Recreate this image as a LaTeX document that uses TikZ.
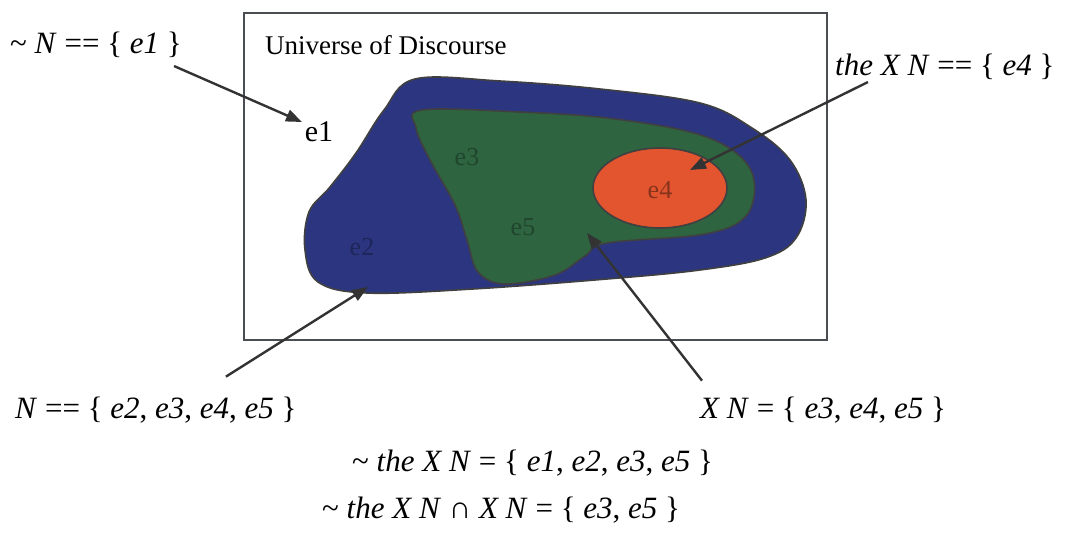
\documentclass[tikz,border=0pt]{standalone}
\usepackage{fontspec}
\setmainfont{Liberation Serif}
\usetikzlibrary{arrows.meta,positioning,calc}
\definecolor{navy}{HTML}{2C3680}
\definecolor{setgreen}{HTML}{2E6440}
\definecolor{theorange}{HTML}{E2552F}
\definecolor{framegray}{HTML}{4A4D52}

\begin{document}
\begin{tikzpicture}[
  x=1pt, y=-1pt,
  lbl/.style={inner sep=0pt, anchor=west, font=\fontsize{27}{32}\selectfont},
  setlbl/.style={inner sep=0pt, anchor=west, font=\fontsize{31}{36}\selectfont},
  elem/.style={inner sep=0pt, font=\fontsize{26}{30}\selectfont},
  region/.style={draw=black!75, line width=1.6pt},
  pointer/.style={-{Triangle[length=16pt,width=12pt]}, line width=2.4pt, draw=black!80}
]
\useasboundingbox (0,0) rectangle (1077,533);
\draw[draw=framegray, line width=2.6pt] (244,13) rectangle (827,340);

\filldraw[region, fill=navy] plot[smooth cycle, tension=0.6] coordinates {(415,79) (500,81) (600,89) (700,103) (752,128) (790,160) (806,200) (796,238) (765,258) (700,270) (607,279) (473,289) (367,293) (318,282) (305,250) (309,212) (330,187) (356,153) (384,110)};
\filldraw[region, fill=setgreen] plot[smooth cycle, tension=0.6] coordinates {(422,110) (520,112) (607,118) (690,132) (735,152) (754,180) (746,216) (705,234) (607,243) (585,256) (555,275) (505,284) (478,272) (467,240) (455,205) (430,160) (416,128)};
\filldraw[region, fill=theorange] (660,188) ellipse [x radius=67, y radius=40];

\node[lbl] (universe) at (265,45) {Universe of Discourse};
\node[elem, font=\fontsize{30}{34}\selectfont] (e1) at (319,132) {e1};
\node[elem, text=setgreen!70!black] (e3) at (467,157) {e3};
\node[elem, text=setgreen!70!black] (e5) at (523,227) {e5};
\node[elem, text=navy!70!black] (e2) at (362,247) {e2};
\node[elem, text=theorange!60!black] (e4) at (660,190) {e4};

\node[setlbl] (notN) at (10,45) {\textasciitilde\ \textit{N} == \{ \textit{e1} \}};
\node[setlbl] (theXN) at (835,67) {\textit{the X N} == \{ \textit{e4} \}};
\node[setlbl] (N) at (15,410) {\textit{N} == \{ \textit{e2}, \textit{e3}, \textit{e4}, \textit{e5} \}};
\node[setlbl] (XN) at (700,410) {\textit{X N} = \{ \textit{e3}, \textit{e4}, \textit{e5} \}};
\node[setlbl] (nottheXN) at (352,463) {\textasciitilde\ \textit{the X N} = \{ \textit{e1}, \textit{e2}, \textit{e3}, \textit{e5} \}};
\node[setlbl] (meet) at (322,510) {\textasciitilde\ \textit{the X N} ∩ \textit{X N} = \{ \textit{e3}, \textit{e5} \}};

\coordinate (tipe1) at (302,122);
\coordinate (tipe4) at (690,170);
\coordinate (tipN) at (368,287);
\coordinate (tipXN) at (587,233);

\draw[pointer] ([xshift=-8pt,yshift=-8pt]notN.south east) -- (tipe1);
\draw[pointer] ([xshift=33pt,yshift=-2pt]theXN.south west) -- (tipe4);
\draw[pointer] ([xshift=70pt,yshift=20pt]N.north) -- (tipN);
\draw[pointer] ([xshift=2pt,yshift=16pt]XN.north west) -- (tipXN);
\end{tikzpicture}
\end{document}
